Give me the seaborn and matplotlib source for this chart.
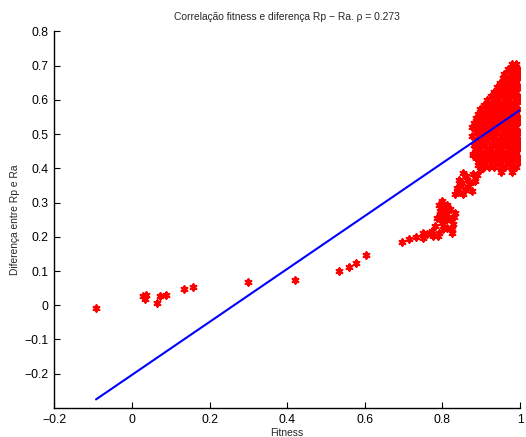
import matplotlib
matplotlib.use("Agg")
import matplotlib.pyplot as plt
import seaborn as sns
import pandas as pd

# Sparse points along the lower tail
tail_x = [-0.092, 0.028, 0.036, 0.034, 0.065, 0.072, 0.087, 0.134, 0.158, 0.300,
          0.420, 0.534, 0.559, 0.577, 0.604, 0.697, 0.714, 0.731, 0.751]
tail_y = [-0.008, 0.026, 0.031, 0.019, 0.007, 0.026, 0.030, 0.046, 0.052, 0.067,
          0.075, 0.101, 0.112, 0.122, 0.147, 0.186, 0.192, 0.199, 0.211]

# Middle group between 0.75 and 0.89
mid_x = [0.751, 0.760, 0.777, 0.773, 0.790, 0.781, 0.811, 0.824, 0.798, 0.828,
         0.786, 0.820, 0.807, 0.833, 0.794, 0.820, 0.811, 0.790, 0.798, 0.788,
         0.833, 0.854, 0.837, 0.858, 0.850, 0.871, 0.863, 0.854, 0.880, 0.884,
         0.876, 0.846, 0.889, 0.897, 0.893, 0.880,
         0.803, 0.815, 0.802, 0.768, 0.815, 0.829, 0.840, 0.866, 0.842, 0.862,
         0.805, 0.795, 0.826]
mid_y = [0.197, 0.207, 0.202, 0.217, 0.212, 0.231, 0.227, 0.212, 0.241, 0.236,
         0.256, 0.251, 0.265, 0.270, 0.275, 0.280, 0.294, 0.294, 0.304, 0.203,
         0.324, 0.324, 0.343, 0.338, 0.358, 0.358, 0.367, 0.387, 0.382, 0.363,
         0.334, 0.352, 0.381, 0.396, 0.410, 0.439,
         0.285, 0.255, 0.222, 0.212, 0.275, 0.258, 0.330, 0.346, 0.366, 0.378,
         0.246, 0.262, 0.222]

# Dense upper cluster, one list of fitness values per difference level
cluster_levels = [0.705, 0.690, 0.676, 0.663, 0.650, 0.637, 0.624, 0.611, 0.598,
                  0.585, 0.572, 0.559, 0.546, 0.533, 0.520, 0.507, 0.494, 0.481,
                  0.468, 0.455, 0.442, 0.429, 0.416, 0.403, 0.389]
cluster_rows = [
    [0.980, 0.990],
    [0.968, 0.982, 0.996],
    [0.960, 0.974, 0.988, 1.000],
    [0.955, 0.968, 0.982, 0.996],
    [0.948, 0.962, 0.976, 0.990],
    [0.942, 0.956, 0.970, 0.984, 0.998],
    [0.934, 0.948, 0.962, 0.976, 0.990],
    [0.926, 0.940, 0.954, 0.968, 0.982, 0.996],
    [0.916, 0.930, 0.944, 0.958, 0.972, 0.986, 1.000],
    [0.906, 0.920, 0.934, 0.948, 0.962, 0.976, 0.990],
    [0.898, 0.912, 0.926, 0.940, 0.954, 0.968, 0.982, 0.996],
    [0.892, 0.906, 0.920, 0.934, 0.948, 0.962, 0.976, 0.990],
    [0.886, 0.900, 0.914, 0.928, 0.942, 0.956, 0.970, 0.984, 0.998],
    [0.882, 0.896, 0.910, 0.924, 0.938, 0.952, 0.966, 0.980, 0.994],
    [0.876, 0.890, 0.904, 0.918, 0.932, 0.946, 0.960, 0.974, 0.988],
    [0.886, 0.900, 0.914, 0.928, 0.942, 0.956, 0.970, 0.984, 0.998],
    [0.876, 0.894, 0.908, 0.922, 0.936, 0.950, 0.964, 0.978, 0.992],
    [0.888, 0.902, 0.916, 0.930, 0.944, 0.958, 0.972, 0.986, 1.000],
    [0.882, 0.896, 0.910, 0.924, 0.938, 0.952, 0.966, 0.980, 0.994],
    [0.884, 0.898, 0.912, 0.926, 0.940, 0.954, 0.968, 0.982, 0.996],
    [0.878, 0.892, 0.906, 0.920, 0.934, 0.948, 0.962, 0.976, 0.990],
    [0.886, 0.900, 0.914, 0.928, 0.942, 0.956, 0.970, 0.984, 0.998],
    [0.896, 0.910, 0.924, 0.938, 0.952, 0.966, 0.980, 0.994],
    [0.906, 0.920, 0.934, 0.948, 0.962, 0.976, 0.990],
    [0.950, 0.979],
]

# Straight trend line across the fitness range
fit_x = [-0.0925, 1.0]
fit_y = [-0.275, 0.570]

x_ticks = [-0.2, 0.0, 0.2, 0.4, 0.6, 0.8, 1.0]
x_labels = ["\u22120.2", "0", "0.2", "0.4", "0.6", "0.8", "1"]
y_ticks = [-0.2, -0.1, 0.0, 0.1, 0.2, 0.3, 0.4, 0.5, 0.6, 0.7, 0.8]
y_labels = ["\u22120.2", "\u22120.1", "0", "0.1", "0.2", "0.3", "0.4",
            "0.5", "0.6", "0.7", "0.8"]

cluster_x = [x for row in cluster_rows for x in row]
cluster_y = [lvl for lvl, row in zip(cluster_levels, cluster_rows) for _ in row]

df = pd.DataFrame({
    "fitness": tail_x + mid_x + cluster_x,
    "diff": tail_y + mid_y + cluster_y,
})

sns.set_style("ticks")
plt.rcParams["font.family"] = ["Liberation Sans", "DejaVu Sans"]

fig = plt.figure(figsize=(5.26, 4.37), dpi=100)
ax = fig.add_axes([0.1032, 0.0664, 0.8854, 0.862])

sns.scatterplot(data=df, x="fitness", y="diff", ax=ax, marker=(6, 2, 0),
                s=20, color="red", edgecolor="red", linewidth=1.6,
                legend=False, zorder=2)
sns.lineplot(x=fit_x, y=fit_y, ax=ax, color="#0000ff", linewidth=1.5,
             zorder=3)

ax.set_xlim(-0.2, 1.0)
ax.set_ylim(-0.3, 0.8)
ax.set_xticks(x_ticks)
ax.set_xticklabels(x_labels)
ax.set_yticks(y_ticks)
ax.set_yticklabels(y_labels)
ax.tick_params(direction="in", length=4, width=0.8, labelsize=8.7, pad=4,
               colors="black")
for side in ("top", "right"):
    ax.spines[side].set_visible(False)
for side in ("left", "bottom"):
    ax.spines[side].set_linewidth(1.0)
    ax.spines[side].set_color("black")

ax.set_title("Correla\u00e7\u00e3o fitness e diferen\u00e7a Rp \u2212 Ra. \u03c1 = 0.273",
             fontsize=7.4, pad=8)
ax.set_xlabel("Fitness", fontsize=7.4, labelpad=2)
ax.set_ylabel("Diferen\u00e7a entre Rp e Ra", fontsize=7.4, labelpad=3)

fig.savefig("out.png", dpi=100)
